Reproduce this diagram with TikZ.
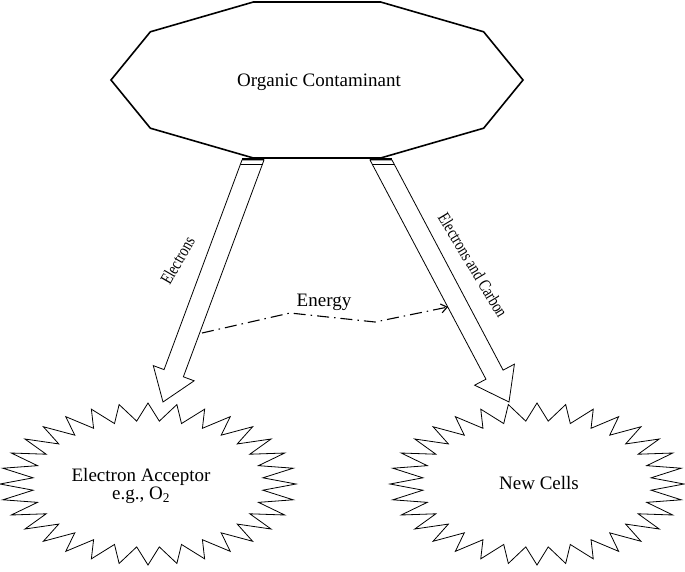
\documentclass[tikz,border=0pt]{standalone}
\usepackage{fontspec}
\setmainfont{Liberation Serif}
\usetikzlibrary{calc,arrows.meta}
\begin{document}
\begin{tikzpicture}[x=1pt,y=-1pt,
  shapeline/.style={draw=black,line width=0.8pt,line join=miter},
  blockarrow/.style={draw=black,line width=0.8pt,fill=white,line join=miter},
  decaline/.style={draw=black,line width=1.6pt,line join=miter},
  lbl/.style={font=\fontsize{19}{18}\selectfont,inner sep=0pt},
  rlbl/.style={font=\fontsize{17.5}{18}\selectfont,inner sep=0pt},
  energyline/.style={line width=1.1pt,dash pattern=on 12pt off 5pt on 1.5pt off 5pt,-{Straight Barb[length=6pt,width=9pt]}}]
\useasboundingbox (0,0) rectangle (685,571);
% decagon
\draw[decaline] (523,80) \foreach \k in {1,...,9}{ -- ({317+206*cos(36*\k)},{80+82*sin(36*\k)}) } -- cycle;
\node[lbl] (org) at (319,82) {Organic Contaminant};
% starbursts
\draw[shapeline] plot[samples=65,domain=0:64,variable=\t] ({148+148*(0.89+0.11*cos(180*\t))*cos(90+5.625*\t)},{484+81*(0.89+0.11*cos(180*\t))*sin(90+5.625*\t)}) -- cycle;
\draw[shapeline] plot[samples=65,domain=0:64,variable=\t] ({537+147*(0.89+0.11*cos(180*\t))*cos(90+5.625*\t)},{484+81*(0.89+0.11*cos(180*\t))*sin(90+5.625*\t)}) -- cycle;
\node[lbl,align=center] (ea) at (141,486) {Electron Acceptor\\e.g., O\textsubscript{2}};
\node[lbl] (nc) at (539,483) {New Cells};
% left block arrow
\coordinate (la) at (253,160);
\coordinate (lt) at (163,402);
\coordinate (lb) at ($(la)!0.881!(lt)$);
\draw[blockarrow] (242,160) -- ($(lb)!10.3pt!-90:(lt)$) -- ($(lb)!21.8pt!-90:(lt)$) -- (lt) -- ($(lb)!21.8pt!90:(lt)$) -- ($(lb)!10.3pt!90:(lt)$) -- (264,160) -- cycle;
\draw[line width=1.8pt] (242,159) -- (264,159);
\draw[line width=1pt] (240.5,164) -- (262.5,164);
% right block arrow
\coordinate (ra) at (381,160);
\coordinate (rt) at (509,402);
\coordinate (rb) at ($(ra)!0.887!(rt)$);
\draw[blockarrow] (370,160) -- ($(rb)!9.7pt!-90:(rt)$) -- ($(rb)!22.5pt!-90:(rt)$) -- (rt) -- ($(rb)!22.5pt!90:(rt)$) -- ($(rb)!9.7pt!90:(rt)$) -- (392,160) -- cycle;
\draw[line width=1.8pt] (370,159) -- (392,159);
\draw[line width=1pt] (372.1,164) -- (394.1,164);
% labels on arrows
\node[rlbl,rotate=60,xscale=0.78] (el) at (177.5,260.5) {Electrons};
\node[rlbl,rotate=-59,xscale=0.78] (ec) at (473,265) {Electrons and Carbon};
% energy
\coordinate (e0) at (202,333);
\coordinate (e1) at (290,313);
\coordinate (e2) at (375,322);
\coordinate (e3) at (448,307);
\draw[energyline] (e0) -- (e1) -- (e2) -- (e3);
\node[lbl] (en) at (324,302) {Energy};
\end{tikzpicture}
\end{document}
